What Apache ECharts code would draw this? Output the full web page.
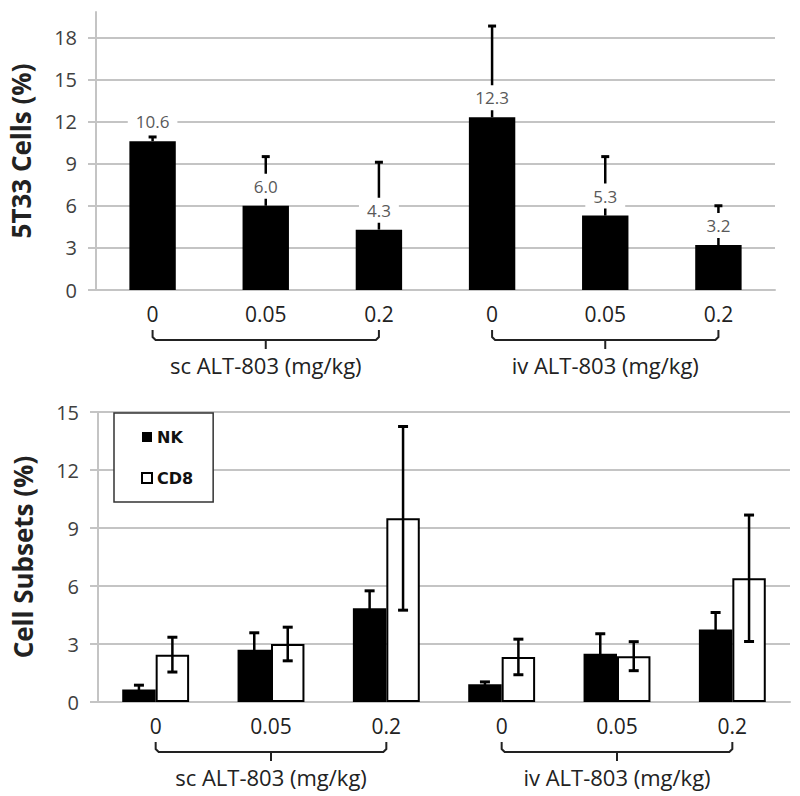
<!DOCTYPE html>
<html>
<head>
<meta charset="utf-8">
<script src="https://cdn.jsdelivr.net/npm/echarts@6/dist/echarts.min.js"></script>
<style>
  html, body { margin: 0; padding: 0; background: #fff; }
  #chart { width: 800px; height: 796px; }
</style>
</head>
<body>
<div id="chart"></div>
<script>
// dose per bar, the two routes under the brackets
var doseLabels = ["0", "0.05", "0.2", "0", "0.05", "0.2"];
var groupLabels = ["sc ALT-803 (mg/kg)", "iv ALT-803 (mg/kg)"];
var groupSpans = [[0, 2], [3, 5]];

// top panel: 5T33 cells, mean and upper error
var t33Mean = [10.6, 6.0, 4.3, 12.3, 5.3, 3.2];
var t33Err = [0.3, 3.5, 4.8, 6.5, 4.2, 2.8];
var topTicks = [0, 3, 6, 9, 12, 15, 18];

// bottom panel: NK and CD8 subsets
var nkMean = [0.65, 2.7, 4.85, 0.92, 2.5, 3.75];
var nkErr = [0.22, 0.88, 0.9, 0.12, 1.03, 0.88];
var cd8Mean = [2.45, 3.0, 9.5, 2.33, 2.37, 6.4];
var cd8Err = [0.9, 0.87, 4.75, 0.92, 0.75, 3.27];
var bottomTicks = [0, 3, 6, 9, 12, 15];

var FONT = "Open Sans";
var GRID_GRAY = "#c4c4c4";

function errRows(mean, err) {
  return mean.map(function (m, i) { return [i, m, err[i]]; });
}

// whisker: shift is a fraction of the band, both = draw lower half too
function errorBar(shift, both, capW) {
  return function (params, api) {
    var i = api.value(0), m = api.value(1), e = api.value(2);
    var band = api.size([1, 0])[0];
    var x = api.coord([i, m])[0] + shift * band;
    var yTop = api.coord([i, m + e])[1];
    var yBot = api.coord([i, both ? m - e : m])[1];
    var kids = [
      { type: "line", shape: { x1: x, y1: yBot, x2: x, y2: yTop }, style: { stroke: "#000", lineWidth: 2.5 } },
      { type: "line", shape: { x1: x - capW / 2, y1: yTop, x2: x + capW / 2, y2: yTop }, style: { stroke: "#000", lineWidth: 3 } }
    ];
    if (both) {
      kids.push({ type: "line", shape: { x1: x - capW / 2, y1: yBot, x2: x + capW / 2, y2: yBot }, style: { stroke: "#000", lineWidth: 3 } });
    }
    return { type: "group", children: kids };
  };
}

// bracket under a group of categories + its label
function bracket(params, api) {
  var a = api.coord([api.value(0), 0]);
  var b = api.coord([api.value(1), 0]);
  var mid = (a[0] + b[0]) / 2;
  var y0 = a[1];
  return {
    type: "group",
    children: [
      {
        type: "polyline",
        shape: { points: [[a[0], y0 + 40], [a[0], y0 + 47], [a[0] + 3, y0 + 50], [b[0] - 3, y0 + 50], [b[0], y0 + 47], [b[0], y0 + 40]] },
        style: { fill: null, stroke: "#222", lineWidth: 2 }
      },
      { type: "line", shape: { x1: mid, y1: y0 + 50, x2: mid, y2: y0 + 59 }, style: { stroke: "#222", lineWidth: 2 } },
      {
        type: "text", x: mid, y: y0 + 75,
        style: { text: groupLabels[params.dataIndex], fill: "#222", fontFamily: FONT, fontSize: 22, align: "center", verticalAlign: "middle" }
      }
    ]
  };
}

function xAxisCfg(gridIndex) {
  return {
    type: "category",
    gridIndex: gridIndex,
    data: doseLabels,
    axisLine: { lineStyle: { color: GRID_GRAY, width: 2 } },
    axisTick: { show: false },
    axisLabel: { color: "#222", fontFamily: FONT, fontSize: 21, margin: 13 }
  };
}

function yAxisCfg(gridIndex, max, ticks, name) {
  return {
    type: "value",
    gridIndex: gridIndex,
    min: 0,
    max: max,
    interval: 3,
    name: name,
    nameLocation: "middle",
    nameGap: 62,
    nameTextStyle: { fontFamily: FONT, fontWeight: "bold", fontSize: 26, color: "#222" },
    axisLine: { show: true, lineStyle: { color: GRID_GRAY, width: 2 } },
    axisTick: { show: true, length: 8, customValues: ticks, lineStyle: { color: GRID_GRAY, width: 2 } },
    axisLabel: { customValues: ticks, color: "#404040", fontFamily: FONT, fontSize: 20, margin: 19 },
    splitLine: { show: true, lineStyle: { color: GRID_GRAY, width: 2 } }
  };
}

var chart = echarts.init(document.getElementById("chart"), null, { renderer: "svg" });

chart.setOption({
  animation: false,
  backgroundColor: "#fff",
  grid: [
    { left: 96, top: 12, width: 679, height: 278 },
    { left: 98, top: 412, width: 692, height: 290 }
  ],
  xAxis: [xAxisCfg(0), xAxisCfg(1)],
  yAxis: [
    yAxisCfg(0, 19.8, topTicks, "5T33 Cells (%)"),
    yAxisCfg(1, 15, bottomTicks, "Cell Subsets (%)")
  ],
  legend: {
    data: ["NK", "CD8"],
    orient: "vertical",
    left: 114,
    top: 413,
    padding: [16, 20, 16, 27],
    itemWidth: 10,
    itemHeight: 10,
    itemGap: 25,
    icon: "rect",
    backgroundColor: "#fff",
    borderColor: "#333",
    borderWidth: 1.5,
    borderRadius: 0,
    textStyle: { fontFamily: "DejaVu Sans", fontWeight: "bold", fontSize: 16, color: "#111" }
  },
  series: [
    {
      name: "5T33",
      type: "bar",
      xAxisIndex: 0,
      yAxisIndex: 0,
      z: 2,
      barWidth: "41%",
      data: t33Mean,
      itemStyle: { color: "#000" },
      label: {
        show: true,
        position: "top",
        distance: 7,
        formatter: function (p) { return p.value.toFixed(1); },
        color: "#595959",
        fontFamily: FONT,
        fontSize: 17,
        backgroundColor: "#fff",
        padding: [4, 8]
      }
    },
    {
      type: "custom",
      xAxisIndex: 0,
      yAxisIndex: 0,
      z: 1,
      renderItem: errorBar(0, false, 8),
      data: errRows(t33Mean, t33Err)
    },
    {
      type: "custom",
      xAxisIndex: 0,
      yAxisIndex: 0,
      renderItem: bracket,
      data: groupSpans
    },
    {
      name: "NK",
      type: "bar",
      xAxisIndex: 1,
      yAxisIndex: 1,
      barWidth: "29%",
      barGap: "0%",
      data: nkMean,
      itemStyle: { color: "#000" }
    },
    {
      name: "CD8",
      type: "bar",
      xAxisIndex: 1,
      yAxisIndex: 1,
      barWidth: "29%",
      barGap: "0%",
      data: cd8Mean,
      itemStyle: { color: "#fff", borderColor: "#000", borderWidth: 2 }
    },
    {
      type: "custom",
      xAxisIndex: 1,
      yAxisIndex: 1,
      z: 3,
      renderItem: errorBar(-0.145, true, 10),
      data: errRows(nkMean, nkErr)
    },
    {
      type: "custom",
      xAxisIndex: 1,
      yAxisIndex: 1,
      z: 3,
      renderItem: errorBar(0.145, true, 10),
      data: errRows(cd8Mean, cd8Err)
    },
    {
      type: "custom",
      xAxisIndex: 1,
      yAxisIndex: 1,
      renderItem: bracket,
      data: groupSpans
    }
  ]
});
</script>
</body>
</html>
